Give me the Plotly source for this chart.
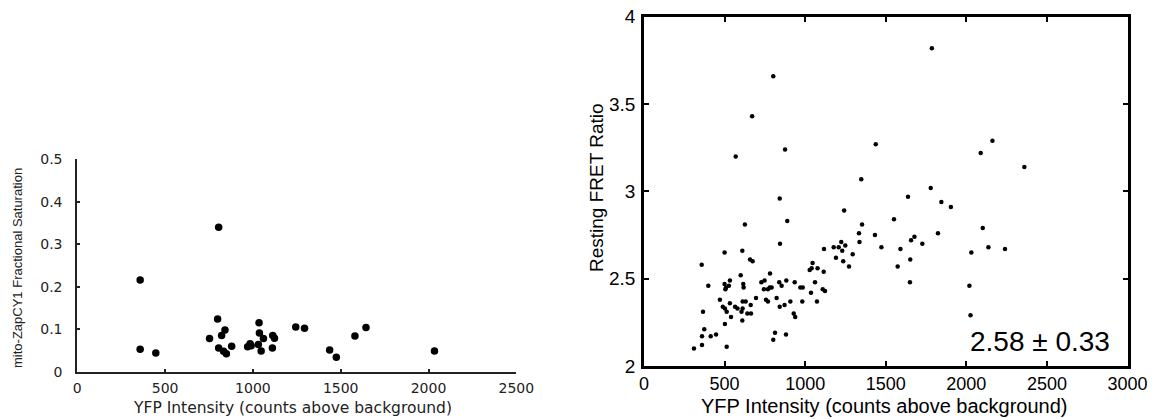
import plotly.graph_objects as go

W, H = 1155, 419

# ---------------- Left panel data ----------------
left_x = [805, 358, 358, 447, 799, 753, 822, 841, 805, 833, 849, 879, 970, 984, 990,
          1035, 1037, 1031, 1047, 1060, 1113, 1123, 1111, 1244, 1294, 1437, 1475,
          1581, 1644, 2034]
left_y = [0.340, 0.216, 0.053, 0.044, 0.124, 0.078, 0.085, 0.098, 0.056, 0.048, 0.042,
          0.060, 0.059, 0.066, 0.061, 0.115, 0.091, 0.064, 0.049, 0.078, 0.085, 0.079,
          0.056, 0.105, 0.102, 0.051, 0.034, 0.084, 0.104, 0.049]
left_xticks = [0, 500, 1000, 1500, 2000, 2500]
left_yticks = [0, 0.1, 0.2, 0.3, 0.4, 0.5]
left_yticktext = ["0", "0.1", "0.2", "0.3", "0.4", "0.5"]

# ---------------- Right panel data ----------------
right_x = [1786, 802, 671, 569, 875, 1438, 2089, 2162, 2360, 1348, 1779, 1638, 842, 1845,
           1904, 1242, 889, 626, 1551, 1353, 2102,
           1334, 1824, 1433, 1678, 1657, 1337, 1727, 1473, 2137, 2240, 1591, 2031, 1652,
           1574, 1650, 2019, 2026,
           1117, 1177, 1208, 1224, 1249, 1230, 1191, 1236, 1295, 1272, 1046, 1028, 1040,
           1077, 1115, 1061, 1036, 1109, 1123, 1073,
           844, 839, 854, 883, 935, 970, 985, 823, 908, 982, 842, 872, 929, 938, 813, 881,
           500, 610, 358, 658, 674, 600, 782, 399, 500, 533, 509, 505, 616, 618, 728, 744,
           769, 792, 471, 533, 565, 580, 502, 513, 631, 612, 662, 695, 757, 769, 540, 641,
           664, 610, 502, 366, 374, 360, 414, 447, 310, 360, 513, 802,
           748, 780, 527, 612, 489, 605]
right_y = [3.82, 3.66, 3.43, 3.20, 3.24, 3.27, 3.22, 3.29, 3.14, 3.07, 3.02, 2.97, 2.96, 2.94,
           2.91, 2.89, 2.83, 2.81, 2.84, 2.81, 2.79,
           2.76, 2.76, 2.75, 2.74, 2.72, 2.71, 2.70, 2.68, 2.68, 2.67, 2.67, 2.65, 2.61,
           2.57, 2.48, 2.46, 2.29,
           2.67, 2.68, 2.68, 2.71, 2.69, 2.66, 2.62, 2.60, 2.64, 2.57, 2.59, 2.55, 2.56,
           2.56, 2.54, 2.48, 2.42, 2.44, 2.43, 2.37,
           2.70, 2.48, 2.46, 2.49, 2.48, 2.45, 2.45, 2.39, 2.37, 2.37, 2.34, 2.35, 2.30,
           2.28, 2.19, 2.18,
           2.65, 2.66, 2.58, 2.61, 2.60, 2.52, 2.53, 2.46, 2.47, 2.49, 2.45, 2.44, 2.47,
           2.45, 2.48, 2.44, 2.44, 2.45, 2.38, 2.36, 2.34, 2.33, 2.33, 2.31, 2.37, 2.33,
           2.35, 2.39, 2.38, 2.37, 2.28, 2.30, 2.30, 2.26, 2.24, 2.31, 2.21, 2.17, 2.17,
           2.18, 2.10, 2.12, 2.11, 2.15,
           2.49, 2.45, 2.46, 2.37, 2.34, 2.31]
right_xticks = [0, 500, 1000, 1500, 2000, 2500, 3000]
right_yticks = [2, 2.5, 3, 3.5, 4]
right_yticktext = ["2", "2.5", "3", "3.5", "4"]
stat_text = "2.58 ± 0.33"

# ---------------- geometry (pixels) ----------------
def fx(px):
    return px / W

def fy(py):
    return 1 - py / H

L_X0, L_X1, L_Y0, L_Y1 = 77.3, 516.3, 371.7, 159.2
R_X0, R_X1, R_Y0, R_Y1 = 644.0, 1127.5, 366.0, 16.8

LEFT_FONT = "DejaVu Sans"
RIGHT_FONT = "Liberation Sans, Arial, sans-serif"

fig = go.Figure()
fig.add_trace(go.Scatter(x=left_x, y=left_y, mode="markers", xaxis="x", yaxis="y",
                         marker=dict(color="black", size=7.5, line=dict(width=0)),
                         cliponaxis=False, hoverinfo="skip"))
fig.add_trace(go.Scatter(x=right_x, y=right_y, mode="markers", xaxis="x2", yaxis="y2",
                         marker=dict(color="black", size=4.5, line=dict(width=0)),
                         cliponaxis=False, hoverinfo="skip"))

fig.update_layout(
    width=W, height=H, autosize=False,
    margin=dict(l=0, r=0, t=0, b=0, pad=0, autoexpand=False),
    paper_bgcolor="white", plot_bgcolor="white", showlegend=False,
    xaxis=dict(domain=[fx(L_X0), fx(L_X1)], range=[0, 2500], anchor="y", automargin=False,
               tickvals=left_xticks, ticks="inside", ticklen=3, tickwidth=1.5,
               tickcolor="#222", showline=True, linewidth=2, linecolor="#222",
               showgrid=False, zeroline=False,
               tickfont=dict(family=LEFT_FONT, size=14, color="#222"),
               ticklabelstandoff=2),
    yaxis=dict(domain=[fy(L_Y0), fy(L_Y1)], range=[0, 0.5], anchor="x", automargin=False,
               tickvals=left_yticks, ticktext=left_yticktext, ticks="inside",
               ticklen=3, tickwidth=1.5, tickcolor="#222",
               showline=True, linewidth=2, linecolor="#222",
               showgrid=False, zeroline=False,
               tickfont=dict(family=LEFT_FONT, size=14, color="#222"),
               ticklabelstandoff=10),
    xaxis2=dict(domain=[fx(R_X0), fx(R_X1)], range=[0, 3000], anchor="y2", automargin=False,
                tickvals=right_xticks, ticks="inside", ticklen=5, tickwidth=2,
                tickcolor="black", showline=True, linewidth=2.5, linecolor="black",
                mirror="ticks", showgrid=False, zeroline=False,
                tickfont=dict(family=RIGHT_FONT, size=18, color="black"),
                ticklabelstandoff=0),
    yaxis2=dict(domain=[fy(R_Y0), fy(R_Y1)], range=[2, 4], anchor="x2", automargin=False,
                tickvals=right_yticks, ticktext=right_yticktext, ticks="inside",
                ticklen=5, tickwidth=2, tickcolor="black",
                showline=True, linewidth=2.5, linecolor="black", mirror="ticks",
                showgrid=False, zeroline=False,
                tickfont=dict(family=RIGHT_FONT, size=19, color="black"),
                ticklabelstandoff=2),
    annotations=[
        dict(text="YFP Intensity (counts above background)", xref="paper", yref="paper",
             x=fx(292), y=fy(408), xanchor="center", yanchor="middle", showarrow=False,
             font=dict(family=LEFT_FONT, size=15.5, color="#222")),
        dict(text="mito-ZapCY1 Fractional Saturation", xref="paper", yref="paper",
             x=fx(17), y=fy(268), xanchor="center", yanchor="middle", showarrow=False,
             textangle=-90, font=dict(family="Liberation Sans, Arial", size=13, color="#222")),
        dict(text="YFP Intensity (counts above background)", xref="paper", yref="paper",
             x=fx(884), y=fy(406), xanchor="center", yanchor="middle", showarrow=False,
             font=dict(family=RIGHT_FONT, size=20, color="black")),
        dict(text="Resting FRET Ratio", xref="paper", yref="paper",
             x=fx(596), y=fy(188), xanchor="center", yanchor="middle", showarrow=False,
             textangle=-90, font=dict(family=RIGHT_FONT, size=19, color="black")),
        dict(text=stat_text, xref="x2", yref="y2",
             x=(1040 - R_X0) / (R_X1 - R_X0) * 3000,
             y=2 + (R_Y0 - 341.7) / (R_Y0 - R_Y1) * 2,
             xanchor="center", yanchor="middle", showarrow=False,
             font=dict(family=RIGHT_FONT, size=28, color="black")),
    ],
)

fig.write_html("out.html")
